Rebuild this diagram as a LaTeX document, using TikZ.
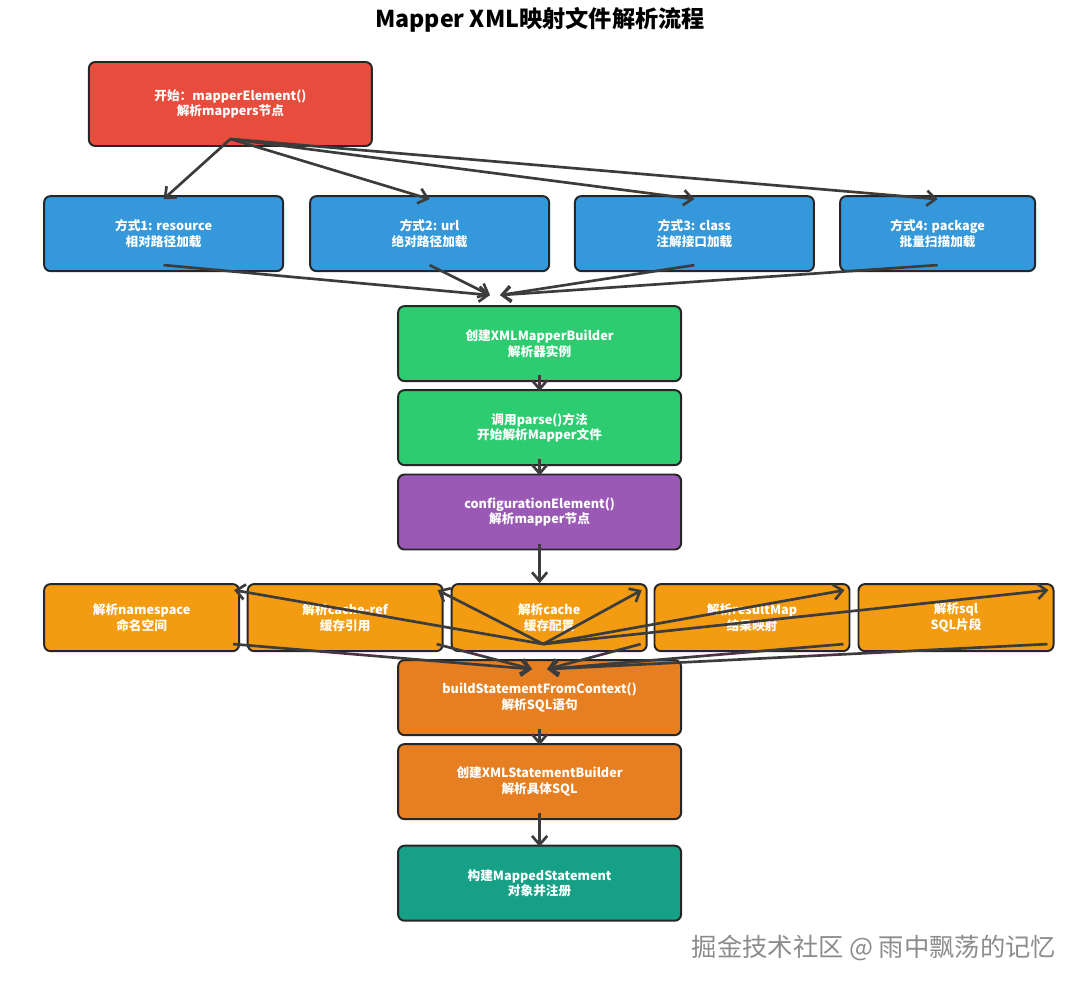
\documentclass[tikz,border=0pt]{standalone}
\usepackage{fontspec}
\setmainfont{Noto Sans CJK SC}
\usepackage{tikz}
\usetikzlibrary{arrows.meta}
\definecolor{startred}{HTML}{E74C3C}
\definecolor{wayblue}{HTML}{3498DB}
\definecolor{stepgreen}{HTML}{2ECC71}
\definecolor{confpurple}{HTML}{9B59B6}
\definecolor{partorange}{HTML}{F39C12}
\definecolor{sqlorange}{HTML}{E67E22}
\definecolor{endteal}{HTML}{16A085}
\definecolor{arrowgray}{HTML}{3C3C3C}

\begin{document}
\begin{tikzpicture}[scale=1,
		box/.style={draw=black!85, line width=1.4pt, rounded corners=0.16cm, text=white, align=center, font=\bfseries\fontsize{9}{11}\selectfont, inner sep=0pt},
		bigbox/.style={box, minimum width=7.075cm, minimum height=1.875cm},
		waybox/.style={box, fill=wayblue, minimum width=5.975cm, minimum height=1.875cm},
		partbox/.style={box, fill=partorange, minimum width=4.875cm, minimum height=1.675cm},
		arr/.style={draw=arrowgray, line width=1.9pt, -{Straight Barb[length=0.22cm,width=0.38cm,line width=1.9pt]}}]
				\useasboundingbox (0,0) rectangle (27,-24.725);
				\node (title) at (13.5,-0.5) {\bfseries\fontsize{16.5}{20}\selectfont Mapper XML映射文件解析流程};
				
				\node[bigbox, fill=startred, minimum height=2.1cm] (start) at (5.76,-2.6) {开始：mapperElement()\\解析mappers节点};
				
				\node[waybox] (res) at (4.09,-5.84) {方式1: resource\\相对路径加载};
				\node[waybox] (url) at (10.74,-5.84) {方式2: url\\绝对路径加载};
				\node[waybox] (cls) at (17.36,-5.84) {方式3: class\\注解接口加载};
				\node[waybox, minimum width=4.875cm] (pkg) at (23.44,-5.84) {方式4: package\\批量扫描加载};
				
				\node[bigbox, fill=stepgreen] (builder) at (13.49,-8.59) {创建XMLMapperBuilder\\解析器实例};
				\node[bigbox, fill=stepgreen] (parse) at (13.49,-10.69) {调用parse()方法\\开始解析Mapper文件};
				\node[bigbox, fill=confpurple] (conf) at (13.49,-12.8) {configurationElement()\\解析mapper节点};
				
				\node[partbox] (nspace) at (3.54,-15.44) {解析namespace\\命名空间};
				\node[partbox] (cref) at (8.63,-15.44) {解析cache-ref\\缓存引用};
				\node[partbox] (cache) at (13.73,-15.44) {解析cache\\缓存配置};
				\node[partbox] (rmap) at (18.8,-15.44) {解析resultMap\\结果映射};
				\node[partbox] (sqlpart) at (23.9,-15.44) {解析sql\\SQL片段};
				
				\node[bigbox, fill=sqlorange] (build) at (13.49,-17.44) {buildStatementFromContext()\\解析SQL语句};
				\node[bigbox, fill=sqlorange] (stmt) at (13.49,-19.54) {创建XMLStatementBuilder\\解析具体SQL};
				\node[bigbox, fill=endteal] (mapped) at (13.49,-22.08) {构建MappedStatement\\对象并注册};
				
				\node[text=black!45, font=\fontsize{18}{20}\selectfont] (mark) at (21.85,-23.7) {掘金技术社区 @ 雨中飘荡的记忆};
				
				\draw[arr] ([yshift=0.2cm]start.south) -- ([yshift=-0.1cm]res.north);
				\draw[arr] ([yshift=0.2cm]start.south) -- ([yshift=-0.1cm]url.north);
				\draw[arr] ([yshift=0.2cm]start.south) -- ([yshift=-0.1cm]cls.north);
				\draw[arr] ([yshift=0.2cm]start.south) -- ([yshift=-0.1cm]pkg.north);
				
				\draw[arr] ([yshift=0.175cm]res.south) -- ([xshift=-1.24cm,yshift=0.25cm]builder.north);
				\draw[arr] ([yshift=0.175cm]url.south) -- ([xshift=-1.24cm,yshift=0.25cm]builder.north);
				\draw[arr] ([yshift=0.175cm]cls.south) -- ([xshift=-0.99cm,yshift=0.25cm]builder.north);
				\draw[arr] ([yshift=0.175cm]pkg.south) -- ([xshift=-0.99cm,yshift=0.25cm]builder.north);
				
				\draw[arr] ([yshift=0.175cm]builder.south) -- ([yshift=-0.05cm]parse.north);
				\draw[arr] ([yshift=0.175cm]parse.south) -- ([yshift=-0.05cm]conf.north);
				\draw[arr] ([yshift=0.15cm]conf.south) -- (conf.south |- cache.north);
				
				\draw[arr] ([xshift=-0.15cm,yshift=0.2cm]cache.south) -- ([xshift=-0.15cm,yshift=-0.175cm]nspace.north east);
				\draw[arr] ([xshift=-0.15cm,yshift=0.2cm]cache.south) -- ([xshift=-0.15cm,yshift=-0.175cm]cref.north east);
				\draw[arr] ([xshift=-0.15cm,yshift=0.2cm]cache.south) -- ([xshift=-0.15cm,yshift=-0.175cm]cache.north east);
				\draw[arr] ([xshift=-0.15cm,yshift=0.2cm]cache.south) -- ([xshift=-0.15cm,yshift=-0.175cm]rmap.north east);
				\draw[arr] ([xshift=-0.15cm,yshift=0.2cm]cache.south) -- ([xshift=-0.15cm,yshift=-0.175cm]sqlpart.north east);
				
				\draw[arr] ([xshift=-0.175cm,yshift=0.2cm]nspace.south east) -- ([xshift=-0.19cm,yshift=-0.25cm]build.north);
				\draw[arr] ([xshift=-0.175cm,yshift=0.2cm]cref.south east) -- ([xshift=-0.19cm,yshift=-0.25cm]build.north);
				\draw[arr] ([xshift=-0.175cm,yshift=0.2cm]cache.south east) -- ([xshift=0.19cm,yshift=-0.25cm]build.north);
				\draw[arr] ([xshift=-0.175cm,yshift=0.2cm]rmap.south east) -- ([xshift=0.19cm,yshift=-0.25cm]build.north);
				\draw[arr] ([xshift=-0.175cm,yshift=0.2cm]sqlpart.south east) -- ([xshift=0.19cm,yshift=-0.25cm]build.north);
				
				\draw[arr] ([yshift=0.175cm]build.south) -- ([yshift=-0.05cm]stmt.north);
				\draw[arr] ([yshift=0.175cm]stmt.south) -- ([yshift=-0.05cm]mapped.north);
			\end{tikzpicture}
\end{document}
